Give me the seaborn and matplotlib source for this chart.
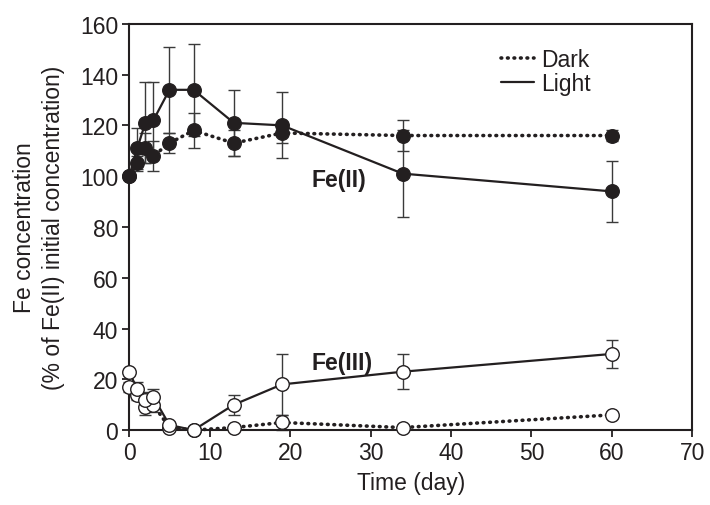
import matplotlib
matplotlib.use("Agg")
import matplotlib.pyplot as plt
import seaborn as sns
import pandas as pd
from matplotlib.lines import Line2D

days = [0, 1, 2, 3, 5, 8, 13, 19, 34, 60]
fe2_light = [100, 111, 121, 122, 134, 134, 121, 120, 101, 94]
fe2_light_err = [0, 8, 16, 15, 17, 18, 13, 13, 17, 12]
fe2_dark = [100, 105, 111, 108, 113, 118, 113, 117, 116, 116]
fe2_dark_err = [0, 3, 6, 6, 4, 7, 5, 4, 6, 2]
fe3_light = [23, 16, 12, 13, 2, 0, 10, 18, 23, 30]
fe3_light_err = [0, 3, 3, 3, 1, 0, 4, 12, 7, 5.5]
fe3_dark = [17, 14, 9, 10, 1, 0, 1, 3, 1, 6]
fe3_dark_err = [2, 2, 3, 3, 1, 0, 1, 3, 1, 1]

x_ticks = [0, 10, 20, 30, 40, 50, 60, 70]
y_ticks = [0, 20, 40, 60, 80, 100, 120, 140, 160]

sns.set_theme(style="ticks")
plt.rcParams['font.family'] = ['Liberation Sans', 'DejaVu Sans']

FS = 16.5
fig = plt.figure(figsize=(7.1, 5.06), dpi=100)
ax = fig.add_axes([0.182, 0.148, 0.793, 0.803])

INK = '#231f20'
DOT = (0, (0.2, 1.6))
series = [
    (fe2_dark, fe2_dark_err, 'dark', INK),
    (fe2_light, fe2_light_err, 'light', INK),
    (fe3_dark, fe3_dark_err, 'dark', 'white'),
    (fe3_light, fe3_light_err, 'light', 'white'),
]

for vals, errs, cond, face in series:
    df = pd.DataFrame({'day': days, 'val': vals})
    ax.errorbar(days, vals, yerr=errs, fmt='none', ecolor='#3a3a3a',
                elinewidth=1.0, capsize=4, capthick=1.0, zorder=2, clip_on=False)
    if cond == 'dark':
        sns.lineplot(data=df, x='day', y='val', ax=ax, color=INK, lw=2.6,
                     linestyle=DOT, dash_capstyle='round',
                     zorder=3, clip_on=False)
    else:
        sns.lineplot(data=df, x='day', y='val', ax=ax, color=INK, lw=1.6,
                     zorder=3, clip_on=False)
    sns.scatterplot(data=df, x='day', y='val', ax=ax, s=95, color=face,
                    edgecolor=INK, linewidth=1.0, zorder=4, clip_on=False)

ax.set_xlim(0, 70)
ax.set_ylim(0, 160)
ax.set_xticks(x_ticks)
ax.set_yticks(y_ticks)
ax.tick_params(axis='both', direction='out', length=5, width=1.3,
               labelsize=FS, colors=INK, pad=3)
ax.tick_params(axis='x', top=False)
ax.tick_params(axis='y', right=False)
for sp in ax.spines.values():
    sp.set_visible(True)
    sp.set_linewidth(1.5)
    sp.set_color(INK)

ax.set_xlabel('Time (day)', fontsize=FS, color=INK, labelpad=5)
ax.set_ylabel('Fe concentration\n(% of Fe(II) initial concentration)',
              fontsize=FS, color=INK, labelpad=11, linespacing=1.3)

ax.text(26.1, 98.8, 'Fe(II)', fontsize=FS, fontweight='bold', color=INK,
        ha='center', va='center')
ax.text(26.4, 26.8, 'Fe(III)', fontsize=FS, fontweight='bold', color=INK,
        ha='center', va='center')

handles = [
    Line2D([], [], color=INK, lw=2.6, linestyle=DOT, dash_capstyle='round'),
    Line2D([], [], color=INK, lw=1.6),
]
ax.legend(handles, ['Dark', 'Light'], loc='upper left',
          bbox_to_anchor=(0.66, 0.94), frameon=False, fontsize=FS,
          handlelength=1.45, handletextpad=0.3, borderpad=0, borderaxespad=0,
          labelspacing=0.05, labelcolor=INK)

fig.savefig('out.png', dpi=100)
